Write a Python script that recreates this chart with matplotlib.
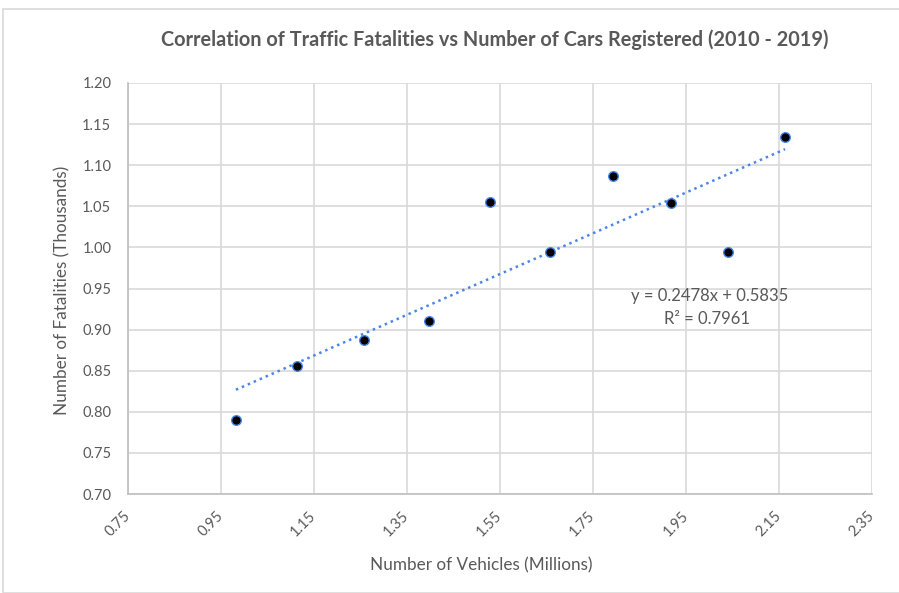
import matplotlib.pyplot as plt
import numpy as np
from matplotlib.patches import Rectangle

plt.rcParams["font.family"] = ["Lato", "DejaVu Sans"]

# vehicles registered (millions) vs fatalities (thousands), 2010-2019
vehicles = [0.982, 1.113, 1.257, 1.397, 1.528, 1.657, 1.793, 1.917, 2.040, 2.163]
fatalities = [0.790, 0.856, 0.887, 0.911, 1.055, 0.994, 1.087, 1.054, 0.995, 1.134]

slope = 0.2478
intercept = 0.5835
r_squared = 0.7961

x_ticks = [0.75, 0.95, 1.15, 1.35, 1.55, 1.75, 1.95, 2.15, 2.35]
y_ticks = [0.70, 0.75, 0.80, 0.85, 0.90, 0.95, 1.00, 1.05, 1.10, 1.15, 1.20]

text_gray = "#595959"
grid_gray = "#d9d9d9"

fig = plt.figure(figsize=(8.99, 5.93), dpi=100)
fig.patches.append(Rectangle((3 / 899, 0), 1, 1 - 9 / 593,
                             transform=fig.transFigure, fill=False,
                             edgecolor="#d9d9d9", linewidth=1.2))

ax = fig.add_axes([128 / 899, 1 - 494 / 593, 744 / 899, 411 / 593])

# linear trendline spanning the data
trend_x = np.array([min(vehicles), max(vehicles)])
ax.plot(trend_x, slope * trend_x + intercept, linestyle=(0, (1, 1.6)),
        color="#4a86e8", linewidth=1.8, zorder=3)

ax.scatter(vehicles, fatalities, s=48, color="black",
           edgecolor="#4a86e8", linewidth=1.0, zorder=4)

ax.set_xlim(0.75, 2.35)
ax.set_ylim(0.70, 1.20)
ax.set_xticks(x_ticks)
ax.set_yticks(y_ticks)
ax.set_xticklabels([f"{v:.2f}" for v in x_ticks], rotation=45,
                   ha="right", va="center", rotation_mode="anchor")
ax.set_yticklabels([f"{v:.2f}" for v in y_ticks])
ax.tick_params(axis="both", length=0, labelsize=10.5, colors=text_gray)
ax.tick_params(axis="x", pad=14)
ax.tick_params(axis="y", pad=12)

ax.grid(True, color=grid_gray, linewidth=1.2)
ax.set_axisbelow(True)
for side in ["top", "right"]:
    ax.spines[side].set_visible(False)
for side in ["left", "bottom"]:
    ax.spines[side].set_color("#bfbfbf")
    ax.spines[side].set_linewidth(1.2)

ax.text(2.0, 0.941, f"y = {slope:.4f}x + {intercept:.4f}",
        ha="center", va="center", fontsize=12, color=text_gray)
ax.text(1.996, 0.913, f"R\u00b2 = {r_squared:.4f}",
        ha="center", va="center", fontsize=12, color=text_gray)

fig.text(495 / 899, 1 - 40 / 593,
         "Correlation of Traffic Fatalities vs Number of Cars Registered (2010 - 2019)",
         ha="center", va="center", fontsize=14.3, fontweight="bold", color=text_gray)
fig.text(481 / 899, 1 - 565 / 593, "Number of Vehicles (Millions)",
         ha="center", va="center", fontsize=12.3, color=text_gray)
fig.text(62 / 899, 1 - 290 / 593, "Number of Fatalities (Thousands)",
         ha="center", va="center", rotation=90, fontsize=12.3, color=text_gray)

fig.savefig("out.png", dpi=100)
